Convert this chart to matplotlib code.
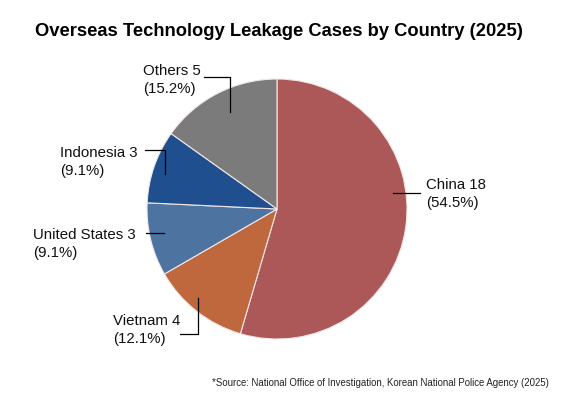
import numpy as np
import matplotlib.pyplot as plt

plt.rcParams['font.family'] = ['Liberation Sans', 'DejaVu Sans']

# data
countries = ['China', 'Vietnam', 'United States', 'Indonesia', 'Others']
cases = [18, 4, 3, 3, 5]
shares = [54.5, 12.1, 9.1, 9.1, 15.2]
colors = ['#ad5858', '#bf673d', '#4d74a0', '#1f4f8f', '#7b7b7b']

W, H = 570, 400
CX, CY, R = 277, 209, 130   # pie centre / radius in pixels

fig = plt.figure(figsize=(W / 100, H / 100), dpi=100)
ax = fig.add_axes([(CX - R) / W, (H - CY - R) / H, 2 * R / W, 2 * R / H])
ax.pie(cases, colors=colors, startangle=90, counterclock=False, radius=1,
       wedgeprops=dict(edgecolor='#f2e6e6', linewidth=0.8))
ax.set_xlim(-1, 1)
ax.set_ylim(-1, 1)
ax.set_aspect('equal')
ax.axis('off')


def px(x, y):
    # pixel position -> pie data coords
    return (x - CX) / R, (CY - y) / R


# label layout (pixels): text left x, text centre y, leader line points
layout = {
    'China': (426, 194, [(393, 193), (420, 193)]),
    'Vietnam': (113, 330, [(198, 298), (198, 334), (180, 334)]),
    'United States': (33, 244, [(164, 233), (146, 233)]),
    'Indonesia': (60, 162, [(165, 174), (165, 150), (145, 150)]),
    'Others': (143, 80, [(230, 112), (230, 77), (204, 77)]),
}

for name, n, pct in zip(countries, cases, shares):
    tx, ty, pts = layout[name]
    xs, ys = zip(*[px(*p) for p in pts])
    ax.plot(xs, ys, color='black', lw=0.9, clip_on=False)
    x0, y0 = px(tx, ty)
    ax.text(x0, y0, f'{name} {n}\n({pct}%)', ha='left', va='center',
            fontsize=10.8, linespacing=1.3, color='#111111')

fig.text(279 / W, 1 - 32 / H, 'Overseas Technology Leakage Cases by Country (2025)',
         ha='center', va='center', fontsize=13.2, fontweight='bold')
fig.text(549 / W, 1 - 383 / H,
         '*Source: National Office of Investigation, Korean National Police Agency (2025)',
         ha='right', va='center', fontsize=6.95, color='#222222')

fig.savefig('out.png', dpi=100)
